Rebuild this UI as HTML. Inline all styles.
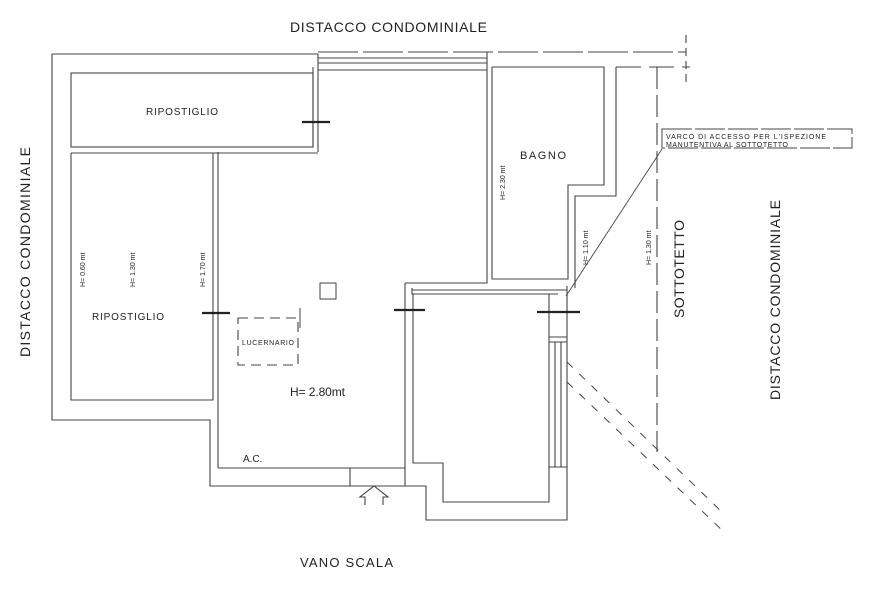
<!DOCTYPE html>
<html><head><meta charset="utf-8"><style>
html,body{margin:0;padding:0;background:#fff;}
svg{display:block;}
text{font-family:"Liberation Sans",sans-serif;fill:#222;}
</style></head><body>
<svg width="870" height="607" viewBox="0 0 870 607" xmlns="http://www.w3.org/2000/svg">
<g stroke="#444" stroke-width="1.1" fill="none">
<polyline points="318,54 52,54 52,420 210,420 210,486 426,486 426,520 567,520 567,286"/>
<line x1="318" y1="52" x2="686" y2="52" stroke-dasharray="40,5"/>
<line x1="318" y1="58" x2="487" y2="58"/>
<line x1="318" y1="63" x2="487" y2="63"/>
<line x1="318" y1="70" x2="487" y2="70"/>
<line x1="318" y1="54" x2="318" y2="152"/>
<line x1="313" y1="67" x2="313" y2="147"/>
<line x1="616" y1="67" x2="690" y2="67" stroke-dasharray="25,8"/>
<line x1="686" y1="35" x2="686" y2="82" stroke-dasharray="8,5"/>
<rect x="71" y="73" width="242" height="74"/>
<line x1="71" y1="153" x2="318" y2="153"/>
<polyline points="71,153 71,400 213,400 213,153"/>
<line x1="218" y1="152" x2="218" y2="468"/>
<line x1="218" y1="468" x2="405" y2="468"/>
<line x1="350" y1="468" x2="350" y2="486"/>
<line x1="405" y1="283" x2="405" y2="486"/>
<polyline points="405,283 487,283 487,70"/>
<line x1="487" y1="70" x2="487" y2="52"/>
<polyline points="492,67 604,67 604,185 568,185 568,279 492,279 492,67"/>
<polyline points="616,67 616,196 575,196 575,288"/>
<polyline points="412,288 412,294 558,294"/>
<polyline points="413,294 413,463 443,463 443,502 549,502 549,294"/>
<line x1="412" y1="290" x2="567" y2="290"/>
<line x1="549" y1="337" x2="567" y2="337"/>
<line x1="549" y1="342" x2="567" y2="342"/>
<line x1="549" y1="467" x2="567" y2="467"/>
<line x1="555" y1="342" x2="555" y2="467"/>
<line x1="561" y1="342" x2="561" y2="467"/>
<g stroke="#222" stroke-width="2.2">
<line x1="302" y1="122" x2="330" y2="122"/>
<line x1="202" y1="313" x2="230" y2="313"/>
<line x1="394" y1="310" x2="425" y2="310"/>
<line x1="537" y1="312" x2="580" y2="312"/>
</g>
<line x1="657" y1="67" x2="657" y2="452" stroke-dasharray="22,6"/>
<rect x="662" y="129" width="190" height="19" stroke-width="1" stroke-dasharray="30,3"/>
<line x1="662" y1="149" x2="566" y2="296" stroke-width="0.9"/>
<g stroke-dasharray="8,9" stroke-width="1">
<line x1="567" y1="362" x2="725" y2="515"/>
<line x1="567" y1="382" x2="725" y2="533"/>
</g>
<rect x="238" y="318" width="60" height="47" stroke-dasharray="10,6"/>
<line x1="300" y1="308" x2="300" y2="328" stroke-width="1"/>
<rect x="320" y="283" width="16" height="16" stroke-width="1"/>
<polyline points="365,505 365,497 360,497 374,486 388,497 383,497 383,505" stroke-width="1.1"/>
</g>
<text x="290" y="32" font-size="14" textLength="197">DISTACCO CONDOMINIALE</text>
<text x="300" y="567" font-size="13" textLength="93">VANO SCALA</text>
<text transform="translate(30,357) rotate(-90)" font-size="14" textLength="210">DISTACCO CONDOMINIALE</text>
<text transform="translate(780,400) rotate(-90)" font-size="14" textLength="200">DISTACCO CONDOMINIALE</text>
<text transform="translate(684,318) rotate(-90)" font-size="14" textLength="98">SOTTOTETTO</text>
<text x="146" y="115" font-size="10" textLength="72">RIPOSTIGLIO</text>
<text x="92" y="320" font-size="10" textLength="72">RIPOSTIGLIO</text>
<text x="520" y="159" font-size="11" textLength="46">BAGNO</text>
<text x="242" y="345" font-size="7" textLength="52">LUCERNARIO</text>
<text x="290" y="396" font-size="12" textLength="55">H= 2.80mt</text>
<text x="243" y="462" font-size="10">A.C.</text>
<text x="666" y="139" font-size="7" textLength="160">VARCO DI ACCESSO PER L'ISPEZIONE</text>
<text x="666" y="147" font-size="7" textLength="122">MANUTENTIVA AL SOTTOTETTO</text>
<g font-size="7">
<text transform="translate(85,287) rotate(-90)">H= 0.60 mt</text>
<text transform="translate(135,287) rotate(-90)">H= 1.30 mt</text>
<text transform="translate(205,287) rotate(-90)">H= 1.70 mt</text>
<text transform="translate(505,200) rotate(-90)">H= 2.30 mt</text>
<text transform="translate(588,265) rotate(-90)">H= 1.10 mt</text>
<text transform="translate(651,265) rotate(-90)">H= 1.30 mt</text>
</g>
</svg>
</body></html>
